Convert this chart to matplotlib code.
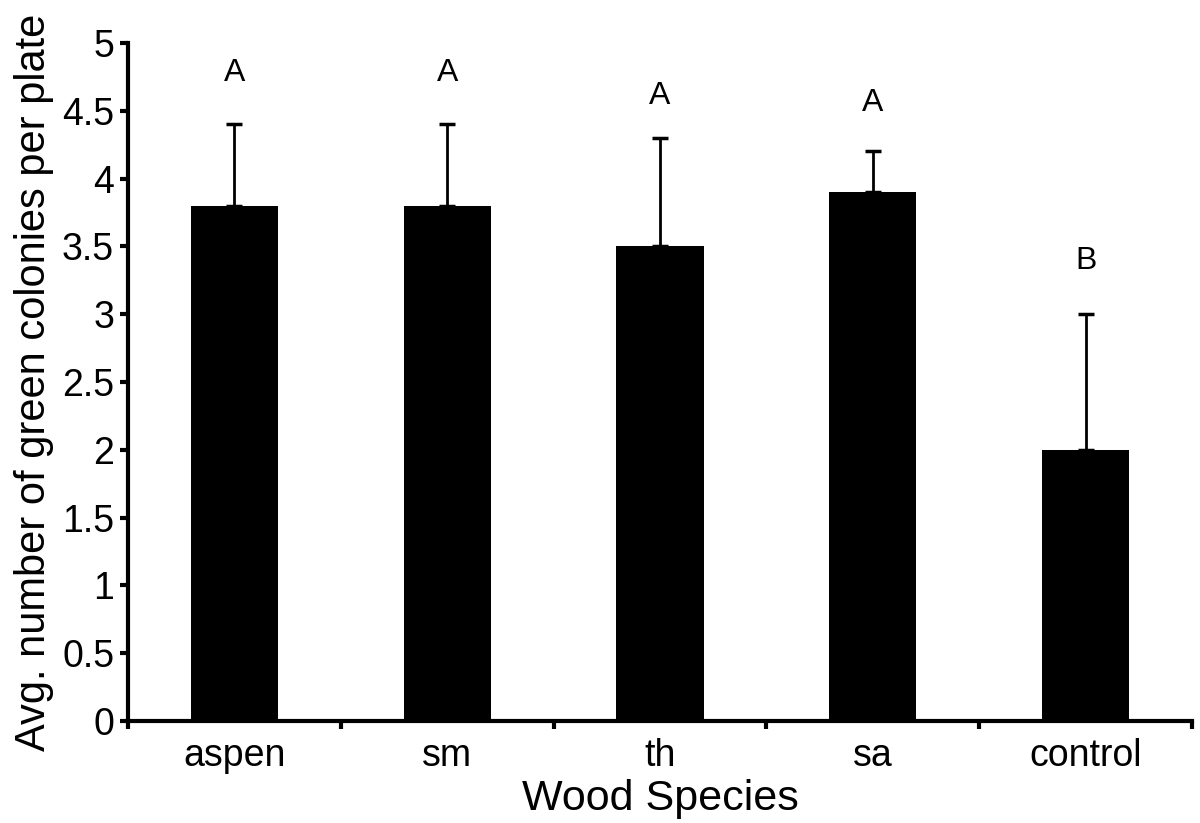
import numpy as np
import matplotlib.pyplot as plt

species = ['aspen', 'sm', 'th', 'sa', 'control']
means = [3.8, 3.8, 3.5, 3.9, 2.0]
errors = [0.6, 0.6, 0.8, 0.3, 1.0]
groups = ['A', 'A', 'A', 'A', 'B']
group_y = [4.67, 4.67, 4.50, 4.45, 3.28]

plt.rcParams['font.family'] = ['Liberation Sans', 'DejaVu Sans']

fig = plt.figure(figsize=(12, 8.23), dpi=100)
ax = fig.add_axes([0.1067, 0.1239, 0.8866, 0.8239])

x = np.arange(len(species))
ax.bar(x, means, width=0.41, color='black', zorder=2)
# only the upper half of the error bar
ax.errorbar(x, means, yerr=[np.zeros(len(errors)), errors], fmt='none',
            ecolor='black', elinewidth=2, capsize=6, capthick=2.5, zorder=1)

for xi, gy, g in zip(x, group_y, groups):
    ax.text(xi, gy, g, ha='center', va='bottom', fontsize=23)

ax.set_xlim(-0.5, len(species) - 0.5)
ax.set_ylim(0, 5)
ax.set_yticks(np.arange(0, 5.01, 0.5))
ax.set_yticklabels(['0', '0.5', '1', '1.5', '2', '2.5', '3', '3.5', '4', '4.5', '5'])
ax.set_xticks(x)
ax.set_xticklabels(species)
ax.set_xticks(np.arange(-0.5, len(species)), minor=True)

ax.tick_params(axis='x', which='major', length=0, labelsize=27, pad=12)
ax.tick_params(axis='x', which='minor', length=6, width=3, direction='out')
ax.tick_params(axis='y', length=6, width=3, labelsize=27, pad=4)

for side in ['top', 'right']:
    ax.spines[side].set_visible(False)
for side in ['left', 'bottom']:
    ax.spines[side].set_linewidth(3)

ax.set_xlabel('Wood Species', fontsize=31, labelpad=4)
ax.set_ylabel('Avg. number of green colonies per plate', fontsize=30, labelpad=6)

fig.savefig('out.png', dpi=100)
